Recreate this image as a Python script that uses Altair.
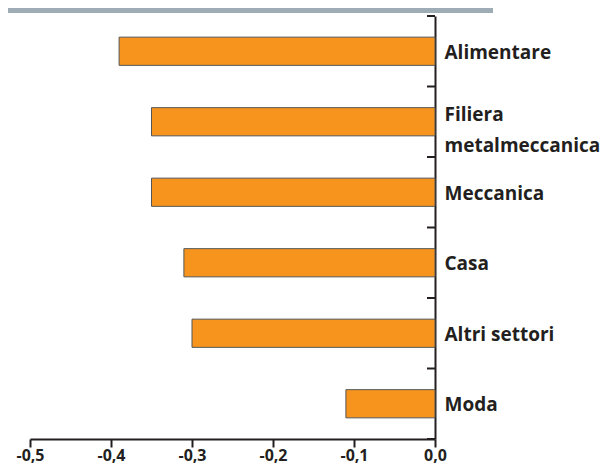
import altair as alt
import pandas as pd

categories = ["Alimentare", "Filiera\nmetalmeccanica", "Meccanica", "Casa", "Altri settori", "Moda"]
values = [-0.39, -0.35, -0.35, -0.31, -0.30, -0.11]
x_ticks = [-0.5, -0.4, -0.3, -0.2, -0.1, 0.0]
band_edges = [0, 1, 2, 3, 4, 5, 6]

df = pd.DataFrame({"settore": categories, "valore": values})
edges_df = pd.DataFrame({"edge": band_edges})

W, H = 405, 423
DARK = "#231f20"
FONT = "Open Sans"

y_scale = alt.Scale(domain=categories, paddingInner=0.6, paddingOuter=0.3)

bars = alt.Chart(df).mark_bar(
    color="#f7941d", stroke="#555555", strokeWidth=1
).encode(
    x=alt.X(
        "valore:Q",
        scale=alt.Scale(domain=[-0.5, 0.0], nice=False),
        axis=alt.Axis(
            values=x_ticks, title=None, orient="bottom",
            labelExpr="replace(replace(format(datum.value, '.1f'), '.', ','), '\u2212', '-')",
            labelFont=FONT, labelFontWeight="bold", labelFontSize=16,
            labelColor=DARK, labelPadding=0, labelFlush=False, labelOverlap=False,
            tickSize=8, tickWidth=2, tickColor=DARK,
            domainColor=DARK, domainWidth=2, grid=False,
        ),
    ),
    x2=alt.datum(0),
    y=alt.Y(
        "settore:N", sort=categories, scale=y_scale,
        axis=alt.Axis(
            orient="right", title=None, ticks=False,
            domainColor=DARK, domainWidth=2,
            labelExpr="split(datum.label, '\\n')",
            labelFont=FONT, labelFontWeight="bold", labelFontSize=19,
            labelColor=DARK, labelPadding=9, labelLineHeight=31,
            labelAlign="left",
            labelOffset={"condition": {"test": "indexof(datum.value, '\\n') >= 0", "value": -7}, "value": 1.5},
            labelLimit=300,
        ),
    ),
)

tick_marks = alt.Chart(edges_df).mark_rule(color=DARK, strokeWidth=2).encode(
    y=alt.Y("edge:Q", scale=alt.Scale(domain=[0, 6], nice=False, zero=False), axis=None),
    x=alt.value(W - 8),
    x2=alt.value(W),
)

band = alt.Chart(pd.DataFrame({"k": [0]})).mark_rect(color="#9eacb5").encode(
    x=alt.value(-22), x2=alt.value(463), y=alt.value(-8), y2=alt.value(-3)
)

chart = alt.layer(band, bars, tick_marks).resolve_scale(y="independent").properties(
    width=W, height=H,
    autosize=alt.AutoSizeParams(type="none"),
    padding={"left": 22, "top": 8, "right": 165, "bottom": 25},
).configure_view(stroke=None)

chart.save("out.html", embed_options={"renderer": "svg", "actions": False})
